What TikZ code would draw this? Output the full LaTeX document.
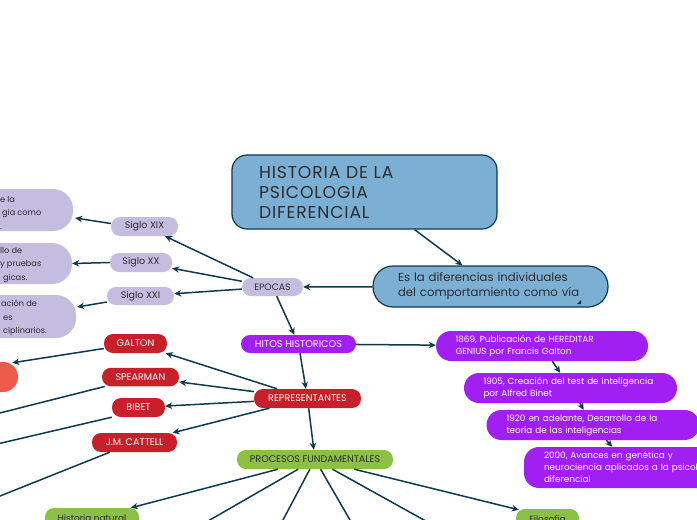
\documentclass[tikz,border=0pt]{standalone}
\usepackage{fontspec}
\setmainfont{Poppins}
\usetikzlibrary{arrows.meta,calc}
\definecolor{histblue}{RGB}{124,175,212}
\definecolor{darkline}{RGB}{14,58,80}
\definecolor{lav}{RGB}{197,189,224}
\definecolor{redn}{RGB}{200,32,42}
\definecolor{purp}{RGB}{161,31,242}
\definecolor{grn}{RGB}{140,191,69}
\definecolor{orng}{RGB}{238,90,74}
\definecolor{txt}{RGB}{45,45,45}
\newcommand\myfs[2]{\fontsize{#1pt}{#2pt}\selectfont}
\begin{document}
\begin{tikzpicture}[x=1pt,y=-1pt,
  pill/.style={rounded corners=9pt, inner sep=0pt, align=center},
  lavpill/.style={pill, fill=lav, text=txt},
  redpill/.style={pill, fill=redn, text=white, font=\myfs{9.6}{11}},
  lavbig/.style={rounded corners=20pt, fill=lav, inner sep=0pt},
  purpbox/.style={rounded corners=15pt, fill=purp, text=white, inner ysep=0pt, inner xsep=19.5pt, align=left, font=\myfs{8.85}{12}},
  grnpill/.style={pill, fill=grn, text=txt},
  arr/.style={draw=darkline, line width=1.5pt, -{Stealth[length=7pt,width=6.5pt]}},
  ln/.style={draw=darkline, line width=1.5pt},
  lefttxt/.style={anchor=west, inner sep=0pt, align=left, text=txt, font=\myfs{8.2}{13.5}}
]
\fill[white] (0,0) rectangle (697,520);
\useasboundingbox (0,0) rectangle (697,520);

% main
\node[draw=darkline, line width=1.2pt, fill=histblue, rounded corners=15pt, text=txt,
  minimum height=74pt, inner xsep=27pt, text width=211pt, align=left,
  font=\myfs{17.2}{20}\addfontfeatures{LetterSpace=5}] (hist) at (364.5,192) {HISTORIA DE LA\\PSICOLOGIA\\DIFERENCIAL};
\node[draw=darkline, line width=1.2pt, fill=histblue, rounded corners=20pt, text=txt,
  minimum height=41pt, inner xsep=25pt, inner ysep=0pt, text width=185pt, align=left,
  font=\myfs{11.7}{15}] (esla) at (490.5,286.5) {\mbox{Es la diferencias individuales}\\\mbox{del comportamiento como vía}};
\fill[txt] (577,304) -- (581,304) -- (581,300) -- cycle;

% epocas
\node[lavpill, minimum width=61pt, minimum height=18pt, font=\myfs{9.3}{10}] (epocas) at (272.5,287) {EPOCAS};
\node[lavpill, minimum width=67pt, minimum height=19pt, font=\myfs{9.5}{11}] (sxix) at (144.5,226.5) {Siglo XIX};
\node[lavpill, minimum width=62pt, minimum height=19pt, font=\myfs{9.5}{11}] (sxx) at (141,262.5) {Siglo XX};
\node[lavpill, minimum width=67pt, minimum height=18pt, font=\myfs{9.5}{11}] (sxxi) at (140.5,296) {Siglo XXI};

\node[lavbig, minimum width=113pt, minimum height=42pt] (box1) at (16.5,210) {};
\node[lavbig, minimum width=112pt, minimum height=41pt] (box2) at (16,263.5) {};
\node[lavbig, minimum width=116pt, minimum height=43pt] (box3) at (18,316.5) {};
\node[lefttxt] (t1) at (0,212.5) {e la\\\hspace*{2pt}gia como\\.};
\node[lefttxt] (t2) at (0,265) {llo de\\y pruebas\\\hspace*{3pt}gicas.};
\node[lefttxt] (t3) at (1,318) {ación de\\\hspace*{2pt}es\\\hspace*{2pt}ciplinarios.};

% representantes
\node[redpill, minimum width=63pt, minimum height=19pt] (galton) at (135.5,343.5) {GALTON};
\node[redpill, minimum width=77pt, minimum height=18.5pt] (spearman) at (140.5,377) {SPEARMAN};
\node[redpill, minimum width=53pt, minimum height=19pt] (bibet) at (138.5,407.5) {BIBET};
\node[redpill, minimum width=85pt, minimum height=19pt] (cattell) at (134.5,442.5) {J.M. CATTELL};
\node[redpill, minimum width=107pt, minimum height=19pt] (repr) at (307.5,398.5) {REPRESENTANTES};
\node[fill=orng, rounded corners=15pt, minimum width=78pt, minimum height=30pt, inner sep=0pt] (circ) at (-21,377) {};

% hitos
\node[pill, fill=purp, text=white, minimum width=115pt, minimum height=18pt, font=\myfs{9.7}{11}] (hitos) at (298.5,344) {HITOS HISTORICOS};
\node[purpbox, text width=173pt, minimum height=30pt] (p1869) at (542,346) {1869, Publicación de HEREDITAR\\GENIUS por Francis Galton};
\node[purpbox, text width=174pt, minimum height=30pt] (p1905) at (570.5,388) {1905, Creación del test de inteligencia\\por Alfred Binet};
\node[purpbox, text width=173pt, minimum height=30pt, inner xsep=20pt] (p1920) at (593,425) {1920 en adelante, Desarrollo de la\\teoría de las inteligencias};
\node[purpbox, text width=173pt, minimum height=41pt, inner xsep=20pt] (p2000) at (630.5,467.5) {2000, Avances en genética y\\\mbox{neurociencia aplicados a la psicolo}\\diferencial};

% procesos
\node[grnpill, minimum width=156pt, minimum height=19pt, font=\myfs{9.6}{11}] (procesos) at (315,459.5) {PROCESOS FUNDAMENTALES};
\node[grnpill, minimum width=94pt, minimum height=20pt, font=\myfs{9}{10}] (hnat) at (92,518) {Historia natural};
\node[grnpill, minimum width=63pt, minimum height=20pt, font=\myfs{9}{10}] (filo) at (547.5,519) {Filosofia};

\coordinate (spend) at (-20,418);
\coordinate (biend) at (-20,448);
\coordinate (catend) at (-20,504);
\coordinate (c1) at (175,540);
\coordinate (c2) at (272.4,540);
\coordinate (c3) at (361.6,540);
\coordinate (c4) at (460,540);

% connectors
\draw[arr] (hist) -- (esla);
\draw[arr] (esla) -- (epocas);
\draw[arr] (epocas) -- (sxix);
\draw[arr] (epocas) -- (sxx);
\draw[arr] (epocas) -- (sxxi);
\draw[arr] ($(sxix.west)+(0,-3)$) -- ($(box1.east)+(2,8)$);
\draw[arr] (sxx.west) -- (box2.east);
\draw[arr] ($(sxxi.west)+(0,6)$) -- ($(box3.east)+(1,-9.5)$);
\draw[arr] (epocas) -- (hitos);
\draw[arr] (hitos) -- (repr);
\draw[arr] (repr) -- (procesos);
\draw[arr] (hitos) -- (p1869);
\draw[arr] (p1869) -- (p1905);
\draw[arr] (p1905) -- (p1920);
\draw[arr] (p1920) -- (p2000);
\draw[arr] (repr) -- (galton);
\draw[arr] (repr) -- (spearman);
\draw[arr] (repr) -- (bibet);
\draw[arr] (repr) -- (cattell);
\draw[arr] ($(galton.west)+(0,5)$) -- ($(circ.north east)+(-6,1)$);
\draw[ln] ($(spearman.south west)+(3,0)$) -- (spend);
\draw[ln] (bibet.south west) -- (biend);
\draw[ln] ($(cattell.south west)+(18,0)$) -- (catend);
\draw[arr] (procesos) -- (hnat);
\draw[ln] (procesos) -- (c1);
\draw[ln] (procesos) -- (c2);
\draw[ln] (procesos) -- (c3);
\draw[ln] (procesos) -- (c4);
\draw[arr] (procesos) -- ($(filo.north west)+(3,1)$);
\end{tikzpicture}
\end{document}
